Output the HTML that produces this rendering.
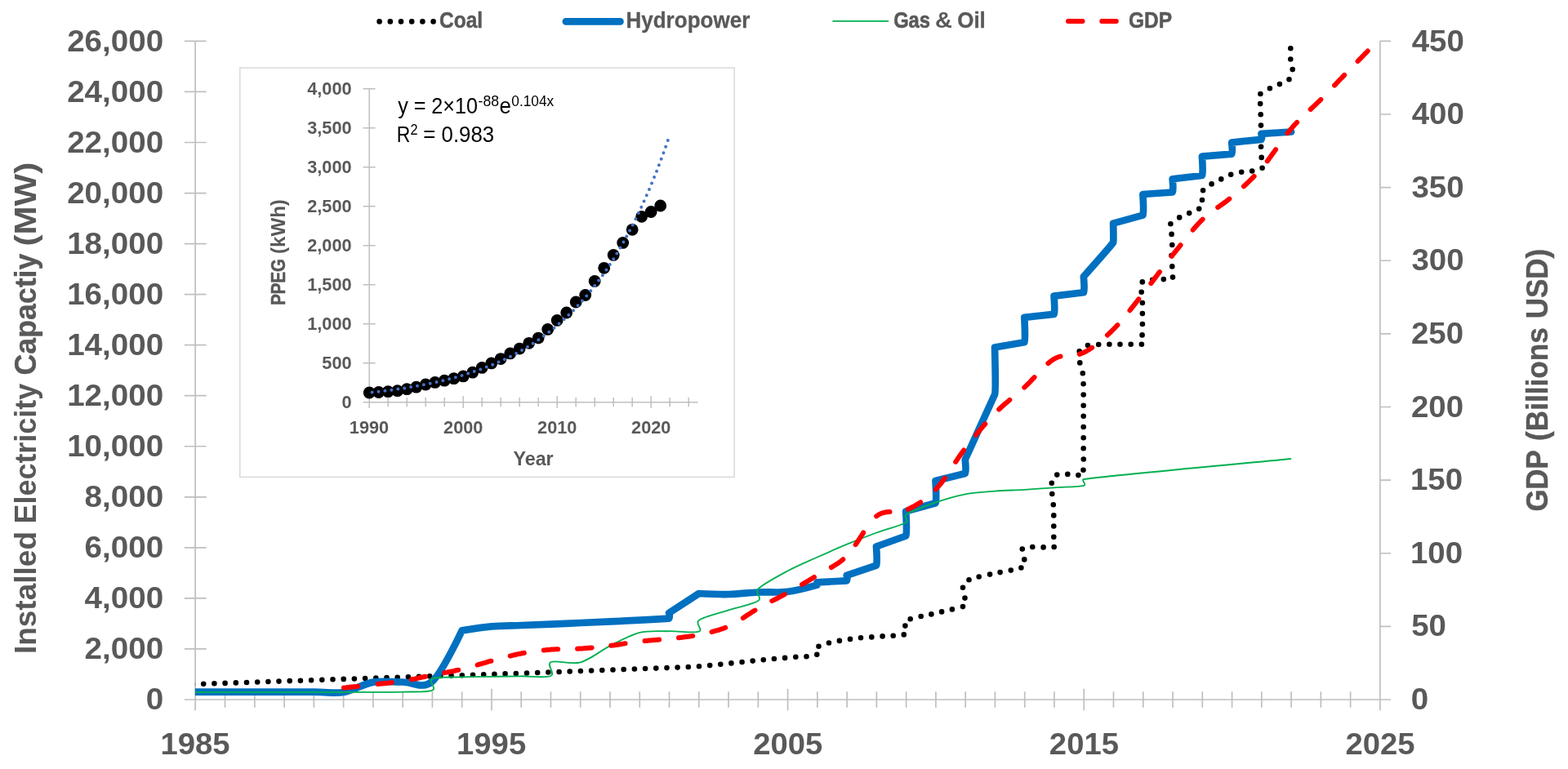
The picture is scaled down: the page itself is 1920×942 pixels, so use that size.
<!DOCTYPE html>
<html lang="en"><head><meta charset="utf-8"><title>Installed Electricity Capacity and GDP</title>
<style>html,body{margin:0;padding:0;background:#fff}body{width:1920px;height:942px;overflow:hidden}svg{display:block}text{font-family:'Liberation Sans',sans-serif;font-weight:bold;fill:#595959}.r{font-weight:normal;fill:#000}</style></head><body>
<svg width="1920" height="942" viewBox="0 0 1920 942">
<defs><clipPath id="plot"><rect x="238.9" y="40.4" width="1451.4" height="826.6"/></clipPath></defs>
<rect width="1920" height="942" fill="#fff"/>
<g stroke="#BFBFBF" stroke-width="1.7" fill="none">
<path d="M239.15,49.9V870.2"/>
<path d="M1689.9,49.9V870.2"/>
<path d="M225.9,857H1703.1"/>
<path d="M225.9,794.95H252.7M225.9,732.91H252.7M225.9,670.86H252.7M225.9,608.82H252.7M225.9,546.77H252.7M225.9,484.72H252.7M225.9,422.68H252.7M225.9,360.63H252.7M225.9,298.58H252.7M225.9,236.54H252.7M225.9,174.49H252.7M225.9,112.45H252.7M225.9,50.4H252.7M1689.9,767.38H1703.1M1689.9,677.76H1703.1M1689.9,588.13H1703.1M1689.9,498.51H1703.1M1689.9,408.89H1703.1M1689.9,319.27H1703.1M1689.9,229.64H1703.1M1689.9,140.02H1703.1M1689.9,50.4H1703.1M275.56,847.3V866.7M311.83,847.3V866.7M348.1,847.3V866.7M384.36,847.3V866.7M420.62,847.3V866.7M456.89,847.3V866.7M493.16,847.3V866.7M529.42,847.3V866.7M565.68,847.3V866.7M601.95,843.8V870.2M638.22,847.3V866.7M674.48,847.3V866.7M710.75,847.3V866.7M747.01,847.3V866.7M783.28,847.3V866.7M819.54,847.3V866.7M855.81,847.3V866.7M892.07,847.3V866.7M928.34,847.3V866.7M964.6,843.8V870.2M1000.87,847.3V866.7M1037.13,847.3V866.7M1073.39,847.3V866.7M1109.66,847.3V866.7M1145.92,847.3V866.7M1182.19,847.3V866.7M1218.45,847.3V866.7M1254.72,847.3V866.7M1290.98,847.3V866.7M1327.25,843.8V870.2M1363.51,847.3V866.7M1399.78,847.3V866.7M1436.05,847.3V866.7M1472.31,847.3V866.7M1508.58,847.3V866.7M1544.84,847.3V866.7M1581.11,847.3V866.7M1617.37,847.3V866.7M1653.63,847.3V866.7"/>
</g>
<text transform="matrix(1.0553 0 0 1 178.81 869.1)" font-size="36.6">0</text>
<text transform="matrix(1.0553 0 0 1 103.59 807.05)" font-size="36.6">2,000</text>
<text transform="matrix(1.0553 0 0 1 103.59 745.01)" font-size="36.6">4,000</text>
<text transform="matrix(1.0553 0 0 1 103.59 682.96)" font-size="36.6">6,000</text>
<text transform="matrix(1.0553 0 0 1 103.59 620.92)" font-size="36.6">8,000</text>
<text transform="matrix(1.0553 0 0 1 82.15 558.87)" font-size="36.6">10,000</text>
<text transform="matrix(1.0553 0 0 1 82.15 496.82)" font-size="36.6">12,000</text>
<text transform="matrix(1.0553 0 0 1 82.15 434.78)" font-size="36.6">14,000</text>
<text transform="matrix(1.0553 0 0 1 82.15 372.73)" font-size="36.6">16,000</text>
<text transform="matrix(1.0553 0 0 1 82.15 310.68)" font-size="36.6">18,000</text>
<text transform="matrix(1.0553 0 0 1 82.15 248.64)" font-size="36.6">20,000</text>
<text transform="matrix(1.0553 0 0 1 82.15 186.59)" font-size="36.6">22,000</text>
<text transform="matrix(1.0553 0 0 1 82.15 124.55)" font-size="36.6">24,000</text>
<text transform="matrix(1.0553 0 0 1 82.15 62.5)" font-size="36.6">26,000</text>
<text transform="matrix(1.0505 0 0 1 1727.76 869.1)" font-size="36.6">0</text>
<text transform="matrix(1.0505 0 0 1 1728.15 779.48)" font-size="36.6">50</text>
<text transform="matrix(1.0505 0 0 1 1726.9 689.86)" font-size="36.6">100</text>
<text transform="matrix(1.0505 0 0 1 1726.9 600.23)" font-size="36.6">150</text>
<text transform="matrix(1.0505 0 0 1 1727.95 510.61)" font-size="36.6">200</text>
<text transform="matrix(1.0505 0 0 1 1727.95 420.99)" font-size="36.6">250</text>
<text transform="matrix(1.0505 0 0 1 1728.43 331.37)" font-size="36.6">300</text>
<text transform="matrix(1.0505 0 0 1 1728.43 241.74)" font-size="36.6">350</text>
<text transform="matrix(1.0505 0 0 1 1728.72 152.12)" font-size="36.6">400</text>
<text transform="matrix(1.0505 0 0 1 1728.72 62.5)" font-size="36.6">450</text>
<text transform="matrix(1.0461 0 0 1 196.38 923.9)" font-size="36.6">1985</text>
<text transform="matrix(1.0461 0 0 1 559.03 923.9)" font-size="36.6">1995</text>
<text transform="matrix(1.0461 0 0 1 922.21 923.9)" font-size="36.6">2005</text>
<text transform="matrix(1.0461 0 0 1 1284.86 923.9)" font-size="36.6">2015</text>
<text transform="matrix(1.0461 0 0 1 1647.51 923.9)" font-size="36.6">2025</text>
<text transform="translate(44 798.6) rotate(-90) matrix(1.0005 0 0 1 -2.5 0)" font-size="37">Installed</text>
<text transform="translate(44 639) rotate(-90) matrix(0.9703 0 0 1 -2.42 0)" font-size="37">Electricity</text>
<text transform="translate(44 458.1) rotate(-90) matrix(0.9657 0 0 1 -1.43 0)" font-size="37" stroke="#595959" stroke-width="0.34" stroke-linejoin="round">Capactiy</text>
<text transform="translate(44 299.3) rotate(-90) matrix(1.1353 0 0 1 -2.1 0)" font-size="37">(MW)</text>
<text transform="translate(1894.7 625) rotate(-90) matrix(0.9364 0 0 1 -1.39 0)" font-size="37" stroke="#595959" stroke-width="0.5" stroke-linejoin="round">GDP</text>
<text transform="translate(1894.7 538.2) rotate(-90) matrix(0.952 0 0 1 -1.76 0)" font-size="37" stroke="#595959" stroke-width="0.42" stroke-linejoin="round">(Billions</text>
<text transform="translate(1894.7 388.2) rotate(-90) matrix(0.9457 0 0 1 -2.1 0)" font-size="37" stroke="#595959" stroke-width="0.45" stroke-linejoin="round">USD)</text>
<path d="M464.6,26.4H531.5" stroke="#000" stroke-width="6.6" stroke-linecap="round" stroke-dasharray="0 13.2" fill="none"/>
<text transform="matrix(0.909 0 0 1 537.92 34.3)" font-size="27" stroke="#595959" stroke-width="0.52" stroke-linejoin="round">Coal</text>
<path d="M692.9,26.4H759.5" stroke="#0070C0" stroke-width="8.7" stroke-linecap="round" fill="none"/>
<text transform="matrix(0.9645 0 0 1 766.44 34.3)" font-size="27" stroke="#595959" stroke-width="0.29" stroke-linejoin="round">Hydropower</text>
<path d="M1019.4,25.9H1088.1" stroke="#00B050" stroke-width="1.85" fill="none"/>
<text transform="matrix(0.8799 0 0 1 1094.15 34.3)" font-size="27" stroke="#595959" stroke-width="0.6" stroke-linejoin="round">Gas</text>
<text transform="matrix(1.0738 0 0 1 1145 34.3)" font-size="27">&amp;</text>
<text transform="matrix(0.9634 0 0 1 1172.16 34.3)" font-size="27" stroke="#595959" stroke-width="0.3" stroke-linejoin="round">Oil</text>
<path d="M1308,26H1368" stroke="#FF0000" stroke-width="6" stroke-linecap="round" stroke-dasharray="17.5 23.8" fill="none"/>
<text transform="matrix(0.9098 0 0 1 1382.02 34.3)" font-size="27" stroke="#595959" stroke-width="0.52" stroke-linejoin="round">GDP</text>
<g clip-path="url(#plot)" fill="none" stroke-linejoin="round">
<path d="M236,838.3h0M249.2,837.8h0M262.4,837.3h0M275.6,836.9h0M288.8,836.4h0M302,836h0M315.2,835.5h0M328.4,835h0M341.5,834.6h0M354.7,834.1h0M367.9,833.7h0M381.1,833.2h0M394.3,832.8h0M407.5,832.3h0M420.7,831.9h0M433.9,831.5h0M447.1,831h0M460.3,830.6h0M473.5,830.1h0M486.7,829.7h0M499.9,829.3h0M513,828.8h0M526.2,828.4h0M539.4,828h0M552.6,827.6h0M565.8,827.2h0M579,826.7h0M592.2,826.3h0M605.4,825.9h0M618.6,825.4h0M631.8,825h0M645,824.5h0M658.2,824h0M671.4,823.5h0M684.6,823h0M697.7,822.5h0M710.9,822h0M724.1,821.5h0M737.3,821h0M750.5,820.5h0M763.7,820h0M776.9,819.5h0M790.1,819h0M803.3,818.6h0M816.5,818.1h0M829.6,817.6h0M842.8,817h0M856,816.2h0M869.2,815.1h0M882.3,813.8h0M895.4,812.4h0M908.6,811h0M921.7,809.6h0M934.8,808.2h0M947.9,807h0M961.1,805.9h0M974.3,804.8h0M987.5,804.2h0M1000.3,801.7h0M1002.5,791.8h0M1015,787.5h0M1027.9,784.9h0M1041,782.9h0M1054,781.2h0M1067.3,780.4h0M1080.6,779.4h0M1093.7,778.7h0M1106.8,777.4h0M1108.4,766.6h0M1114.7,758.3h0M1127.7,755h0M1140.4,752.4h0M1153.1,749.4h0M1165.9,746.4h0M1179,743.1h0M1181.5,732.6h0M1179,719.8h0M1186.5,710.3h0M1198.7,706.5h0M1212.1,703.6h0M1224.6,701.1h0M1237.8,698.6h0M1250.4,695.5h0M1254.3,685.4h0M1251.8,672.5h0M1264.3,670h0M1277.6,670.4h0M1290.7,670h0M1290.3,657.7h0M1290.3,644.5h0M1290.3,631.4h0M1289.8,618.3h0M1288.3,605h0M1287.8,591.8h0M1294.3,581.6h0M1307.3,580.9h0M1320.4,582.1h0M1326.5,575.8h0M1326.8,562.5h0M1326.7,549.3h0M1326.7,536.2h0M1326.7,523h0M1326.7,509.8h0M1326.7,496.7h0M1326.7,483.5h0M1326.6,470.3h0M1325.8,457.3h0M1322.3,444.4h0M1321.7,430.4h0M1332,423.1h0M1345.2,422h0M1358.4,421.8h0M1371.5,421.8h0M1384.7,421.8h0M1397.9,421.7h0M1398.6,410.4h0M1398.9,397h0M1398.9,384.1h0M1398.9,371h0M1397.7,357.7h0M1398.8,345.4h0M1411.2,342.9h0M1424.8,342.1h0M1436,339.6h0M1435.3,326.4h0M1434.5,313.1h0M1435.3,300h0M1434.6,286.9h0M1433.4,274.2h0M1444.2,266.4h0M1456.2,261.1h0M1468.2,255.7h0M1472,245h0M1473.1,233.2h0M1483.6,225.4h0M1495.3,219.4h0M1507.2,213.7h0M1520.2,210.7h0M1533.2,209.5h0M1545.6,205.7h0M1544.7,192.9h0M1544.1,179.8h0M1544,166.7h0M1544,153.6h0M1543.7,140.3h0M1543.2,127.1h0M1543.4,115h0M1554.9,108.2h0M1566.9,103.1h0M1578.5,97.2h0M1582.7,85.1h0M1580.3,72.5h0M1580.3,59.2h0" stroke="#000" stroke-width="6.6" stroke-linecap="round"/>
<path d="M239.3,847.6C239.3,847.6 354.14,847.53 384.36,847.6C402.49,847.64 408.54,850 420.62,848C432.71,846 444.8,837.68 456.89,835.6C468.98,833.52 481.07,835.67 493.16,835.5C505.24,835.33 517.33,845.12 529.42,834.6C541.51,824.08 565.68,772.4 565.68,772.4C565.68,772.4 589.86,768.47 601.95,767.4C614.04,766.33 626.13,766.47 638.22,766C650.3,765.53 662.39,765.1 674.48,764.6C686.57,764.1 698.66,763.53 710.75,763C722.83,762.47 734.92,761.95 747.01,761.4C759.1,760.85 771.25,760.32 783.28,759.7C795.3,759.08 819.14,757.7 819.14,757.7C820.54,754.2 819.14,750.9 819.14,750.9L855.81,727C855.81,727 879.98,728.25 892.07,728C904.16,727.75 916.25,726.03 928.34,725.5C940.42,724.97 952.58,726.28 964.6,724.8C976.62,723.32 1000.47,716.6 1000.47,716.6C1001.87,713.1 1000.47,713.3 1000.47,713.3L1036.73,711.4C1038.13,707.9 1036.73,704.8 1036.73,704.8L1073,692.6C1074.4,689.1 1073,669.5 1073,669.5L1109.26,656.5C1110.66,653 1109.26,626.4 1109.26,626.4L1145.53,616.2C1146.93,612.7 1145.53,589 1145.53,589L1181.79,580C1183.19,576.5 1181.79,563 1181.79,563L1218.06,483.2C1219.46,479.7 1218.06,425.5 1218.06,425.5L1254.32,419.3C1255.72,415.8 1254.32,388.8 1254.32,388.8L1290.59,384.9C1291.99,381.4 1290.59,362.6 1290.59,362.6L1326.85,358.3C1328.25,354.8 1326.85,338.8 1326.85,338.8C1326.85,338.8 1360.12,301.5 1363.12,297C1363.72,292 1363.12,273.6 1363.12,273.6L1399.38,263.6C1400.78,260.1 1399.38,238 1399.38,238L1435.65,235.5C1437.05,232 1435.65,219.2 1435.65,219.2L1471.91,215C1473.31,211.5 1471.91,191.7 1471.91,191.7L1508.18,188.6C1509.58,185.1 1508.18,174.6 1508.18,174.6L1544.44,170.8C1545.84,167.3 1544.44,163.8 1544.44,163.8L1581.11,161.5" stroke="#0070C0" stroke-width="8.7" stroke-linecap="round"/>
<path d="M239.3,847.9C245.34,847.9 263.48,847.9 275.56,847.9C287.65,847.9 299.74,847.9 311.83,847.9C323.92,847.9 336.01,847.9 348.1,847.9C360.18,847.9 372.27,847.9 384.36,847.9C396.45,847.9 408.54,847.9 420.62,847.9C432.71,847.9 444.8,847.95 456.89,847.9C468.98,847.85 481.07,847.98 493.16,847.6C505.24,847.22 523.38,848.3 529.42,845.6C535.46,842.9 523.38,834.1 529.42,831.4C535.46,828.7 553.6,829.83 565.68,829.4C577.77,828.97 589.86,828.98 601.95,828.8C614.04,828.62 626.13,828.43 638.22,828.3C650.3,828.17 668.44,830.88 674.48,828C680.52,825.12 668.44,813.78 674.48,811C680.52,808.22 698.66,814.6 710.75,811.3C722.83,808 734.92,797.27 747.01,791.2C759.1,785.13 771.19,777.9 783.28,774.9C795.36,771.9 807.45,773.4 819.54,773.2C831.63,773 849.76,775.92 855.81,773.7C861.85,771.48 850.22,763.95 855.81,759.9C861.85,755.52 879.98,751.37 892.07,747.4C904.16,743.43 922.29,740.42 928.34,736.1C934.28,731.86 923.21,726.7 928.34,721.5C934.38,715.37 952.51,705.8 964.6,699.3C976.69,692.8 988.78,687.93 1000.87,682.5C1012.95,677.07 1025.04,671.7 1037.13,666.7C1049.22,661.7 1061.31,656.95 1073.39,652.5C1085.48,648.05 1103.62,643.68 1109.66,640C1113.76,637.5 1105.69,633.09 1109.66,630.4C1115.7,626.3 1133.84,619.58 1145.92,615.4C1158.01,611.22 1170.1,607.6 1182.19,605.3C1194.28,603 1206.37,602.52 1218.45,601.6C1230.54,600.68 1242.63,600.52 1254.72,599.8C1266.81,599.08 1278.9,598.13 1290.98,597.3C1303.07,596.47 1321.21,596.52 1327.25,594.8C1331,593.73 1323.38,587.5 1327.25,587C1369.56,581.53 1538.8,566.17 1581.11,562" stroke="#00B050" stroke-width="1.85"/>
<path d="M421,842.6L422.8,842.4L424.8,842.1L426.3,842L428,841.8L429.7,841.6L431.6,841.4L433.5,841.2L435.5,841L437.5,840.8L438.3,840.7M462.5,838L464.1,837.8L466,837.6L467.8,837.4L469.6,837.2L471.4,837.1L473.2,836.9L475,836.7L476.8,836.5L478.7,836.3L479.9,836.1M503.9,832.3L505.8,831.9L507.7,831.6L509.5,831.2L511.3,830.8L513.1,830.4L514.9,830L516.7,829.6L518.5,829.2L520.4,828.8L521,828.7M544.2,824.1L545.7,823.8L547.6,823.5L549.4,823.1L551.2,822.8L553,822.4L554.8,822.1L556.6,821.7L558.4,821.3L560.2,820.9L561.3,820.7M584.6,814.5L586.5,813.9L588.3,813.4L590.2,812.8L592,812.3L593.8,811.8L595.6,811.3L597.4,810.7L599.2,810.2L601,809.7L601.4,809.7M624.7,803.5L626.4,803.1L628.2,802.6L630.1,802.2L631.9,801.8L633.7,801.4L635.5,801L637.3,800.7L639.1,800.3L640.9,800L641.8,799.8M665.8,796.5L668.1,796.3L669.9,796.1L671.8,795.9L673.6,795.8L675.4,795.6L677.2,795.5L679,795.4L680.8,795.3L682.6,795.2L683.2,795.2M707.1,794.7L708.9,794.6L710.8,794.5L712.6,794.4L714.4,794.3L716.2,794.1L718,794L719.8,793.8L721.6,793.7L723.4,793.5L724.6,793.4M748.3,790.8L750.6,790.5L752.5,790.3L754.3,790L756.1,789.8L757.9,789.5L759.7,789.2L761.5,788.9L763.3,788.6L765.1,788.3L765.6,788.3M789.6,785L791.4,784.9L793.2,784.7L795.1,784.5L796.9,784.4L798.7,784.2L800.5,784.1L802.3,783.9L804.1,783.8L805.9,783.7L807.1,783.6M831,781.2L833.1,781L835,780.8L836.8,780.5L838.6,780.3L840.4,780.1L842.2,779.9L844,779.6L845.8,779.4L847.6,779.1L848.3,779M871.5,774.1L873,773.7L874.8,773.2L876.7,772.7L878.5,772.2L880.3,771.6L882.1,771L883.9,770.4L885.7,769.8L887.5,769.1L888.2,768.8M909.8,757.1L911.1,756.2L912.9,755L914.7,753.8L916.6,752.6L918.4,751.5L920.2,750.3L922,749.1L923.8,748L924.5,747.6M945.3,736.2L947.4,735.1L949.2,734.2L951,733.3L952.8,732.3L954.6,731.4L956.4,730.4L958.3,729.5L960.1,728.5L960.8,728.1M982,716L983.6,715L985.5,714L987.3,712.9L989.1,711.8L990.9,710.7L992.7,709.6L994.5,708.5L996.3,707.4L997,707M1017.9,695L1019.9,693.9L1021.7,692.8L1023.5,691.6L1025.3,690.5L1027.2,689.2L1029,687.9L1030.8,686.5L1032.3,685.2M1047.7,667.2L1048.9,665.4L1049.8,664L1050.7,662.6L1051.6,661.2L1052.5,659.7L1053.5,658.3L1054.4,656.9L1055.3,655.5L1056.2,654.1L1057.1,652.6L1057.2,652.4M1073.2,632.4L1075.2,630.9L1077,629.9L1078.8,629L1080.6,628.4L1082.5,627.9L1084.3,627.5L1086.1,627.3L1087.9,627.1L1089.5,627.1M1111.9,623.8L1113.3,623.1L1115.1,622.2L1116.9,621.3L1118.7,620.3L1120.5,619.3L1122.4,618.2L1124.2,617.1L1126,616L1127.2,615.2M1145.8,599.5L1147.7,597.4L1149.5,595.3L1151.4,593.1L1153.2,590.8L1154.1,589.6L1155,588.3L1155.9,587.1L1156.8,585.8M1170.2,565.8L1171.3,564.2L1172.2,562.8L1173.1,561.5L1174,560.1L1174.9,558.8L1175.8,557.5L1176.7,556.2L1177.7,554.9L1178.6,553.6L1179.5,552.4L1180.2,551.4M1195,532.8L1196.7,530.7L1198.5,528.5L1200.3,526.3L1202.1,524.2L1203.9,522.1L1205.8,520L1206.3,519.4M1223.2,501.5L1224.8,500L1226.6,498.3L1228.4,496.7L1230.2,495.1L1232.1,493.5L1233.9,492L1235.7,490.5L1236.3,489.9M1254.3,474.6L1255.6,473.4L1257.4,471.6L1259.3,469.8L1261.1,468L1262.9,466.1L1264.7,464.1L1266.5,462.2L1266.6,462.1M1283.4,445.1L1284.6,444.1L1286.4,442.7L1288.3,441.3L1290.1,440.1L1291.9,439.1L1293.7,438.2L1295.5,437.5L1297.3,436.9L1298.5,436.6M1321.8,433.8L1323.6,433.2L1325.4,432.5L1327.2,431.7L1329.1,430.8L1330.9,429.8L1332.7,428.7L1334.5,427.6L1336.3,426.4L1337.2,425.8M1356,410.5L1357.2,409.4L1359,407.7L1360.8,406L1362.6,404.2L1364.4,402.4L1366.2,400.5L1368,398.6L1368.4,398.2M1383.5,380.2L1385.3,378L1387.1,375.7L1388.9,373.4L1390.7,371.1L1392.5,368.7L1394.3,366.4M1409.4,347.1L1410.7,345.4L1411.6,344.2L1412.5,343L1413.4,341.8L1414.3,340.6L1415.2,339.4L1416.1,338.2L1417,337L1417.9,335.8L1418.8,334.6L1419.7,333.4L1420,333.1M1434.7,313.9L1436,312.2L1437.9,309.9L1439.7,307.6L1441.5,305.4L1443.3,303.1L1445.1,300.8L1445.6,300.2M1460.7,281.6L1462.3,279.7L1464.1,277.6L1466,275.6L1467.8,273.6L1469.6,271.7L1471.4,269.9L1472.6,268.7M1491.2,254L1493.2,252.6L1495,251.3L1496.8,250.1L1498.6,248.8L1500.4,247.5L1502.2,246.1L1504,244.7L1505.3,243.7M1523,228.2L1524.9,226.5L1526.7,224.8L1528.5,223.1L1530.3,221.3L1532.1,219.5L1534,217.7L1535.6,216M1551.8,197.3L1553,195.8L1553.9,194.5L1554.8,193.3L1555.7,192.1L1556.6,190.8L1557.5,189.5L1558.4,188.3L1559.3,187L1560.3,185.7L1561.2,184.4L1562.1,183.2M1576.6,163.1L1578.4,160.9L1580.2,158.7L1582,156.6L1583.8,154.5L1585.6,152.5L1587.5,150.6L1588.1,149.9M1604.7,134L1606.5,132.3L1608.3,130.6L1610.1,128.9L1611.9,127.1L1613.7,125.4L1615.6,123.6L1617.3,121.9M1634.1,104.6L1635.5,103.1L1637.3,101.2L1639.1,99.3L1640.9,97.4L1642.8,95.5L1644.6,93.6L1646.2,91.9M1662.6,75L1664.6,72.9L1665.7,71.8L1666.7,70.8L1667.8,69.7L1668.8,68.6L1669.9,67.5L1670.9,66.4L1673,64.3L1674.8,62.5" stroke="#FF0000" stroke-width="6" stroke-linecap="round"/>
</g>
<rect x="293.8" y="83.1" width="605.4" height="501.3" fill="#fff" stroke="#D9D9D9" stroke-width="1.5"/>
<g stroke="#BFBFBF" stroke-width="1.5" fill="none">
<path d="M452.2,108V500.1"/>
<path d="M444.6,492.7H854.7"/>
<path d="M444.6,444.7H459.6M444.6,396.7H459.6M444.6,348.7H459.6M444.6,300.7H459.6M444.6,252.7H459.6M444.6,204.7H459.6M444.6,156.7H459.6M444.6,108.7H459.6M475.2,487.1V498.3M498.2,487.1V498.3M521.2,487.1V498.3M544.2,487.1V498.3M567.2,485.3V500.1M590.2,487.1V498.3M613.2,487.1V498.3M636.2,487.1V498.3M659.2,487.1V498.3M682.2,485.3V500.1M705.2,487.1V498.3M728.2,487.1V498.3M751.2,487.1V498.3M774.2,487.1V498.3M797.2,485.3V500.1M820.2,487.1V498.3M843.2,487.1V498.3"/>
</g>
<text transform="matrix(0.999 0 0 1 418.58 499.6)" font-size="21.8">0</text>
<text transform="matrix(0.999 0 0 1 394.36 451.6)" font-size="21.8">500</text>
<text transform="matrix(0.999 0 0 1 376.17 403.6)" font-size="21.8">1,000</text>
<text transform="matrix(0.999 0 0 1 376.17 355.6)" font-size="21.8">1,500</text>
<text transform="matrix(0.999 0 0 1 376.17 307.6)" font-size="21.8">2,000</text>
<text transform="matrix(0.999 0 0 1 376.17 259.6)" font-size="21.8">2,500</text>
<text transform="matrix(0.999 0 0 1 376.17 211.6)" font-size="21.8">3,000</text>
<text transform="matrix(0.999 0 0 1 376.17 163.6)" font-size="21.8">3,500</text>
<text transform="matrix(0.999 0 0 1 376.17 115.6)" font-size="21.8">4,000</text>
<text transform="matrix(0.9975 0 0 1 427.79 530.7)" font-size="21.8">1990</text>
<text transform="matrix(0.9975 0 0 1 543.09 530.7)" font-size="21.8">2000</text>
<text transform="matrix(0.9975 0 0 1 658.09 530.7)" font-size="21.8">2010</text>
<text transform="matrix(0.9975 0 0 1 773.09 530.7)" font-size="21.8">2020</text>
<text transform="matrix(0.9995 0 0 1 628.49 570.3)" font-size="23.3">Year</text>
<text transform="translate(349.3 372.4) rotate(-90) matrix(0.877 0 0 1 -1.38 0)" font-size="23.3" stroke="#595959" stroke-width="0.58" stroke-linejoin="round">PPEG</text>
<text transform="translate(349.3 309.8) rotate(-90) matrix(1.0339 0 0 1 -1.2 0)" font-size="23.3">(kWh)</text>
<text class="r" transform="matrix(0.921 0 0 1 487.14 139.3)" font-size="27.3">y = 2×10</text>
<text class="r" transform="matrix(0.9505 0 0 1 585.5 130.2)" font-size="18.6">-88</text>
<text class="r" transform="matrix(0.9508 0 0 1 611.5 139.3)" font-size="27.3">e</text>
<text class="r" transform="matrix(0.9295 0 0 1 626.31 130.2)" font-size="18.6">0.104x</text>
<text class="r" transform="matrix(0.8408 0 0 1 485.71 174.3)" font-size="27.3">R</text>
<text class="r" transform="matrix(0.8744 0 0 1 502.59 165.2)" font-size="18.6">2</text>
<text class="r" transform="matrix(0.9454 0 0 1 518.31 174.3)" font-size="27.3">= 0.983</text>
<g fill="#000"><circle cx="452.2" cy="481" r="7.4"/><circle cx="463.7" cy="480.5" r="7.4"/><circle cx="475.2" cy="479.7" r="7.4"/><circle cx="486.7" cy="478.7" r="7.4"/><circle cx="498.2" cy="476.7" r="7.4"/><circle cx="509.7" cy="474.2" r="7.4"/><circle cx="521.2" cy="471" r="7.4"/><circle cx="532.7" cy="468.4" r="7.4"/><circle cx="544.2" cy="466.2" r="7.4"/><circle cx="555.7" cy="463.7" r="7.4"/><circle cx="567.2" cy="460.9" r="7.4"/><circle cx="578.7" cy="456.2" r="7.4"/><circle cx="590.2" cy="450.4" r="7.4"/><circle cx="601.7" cy="444.9" r="7.4"/><circle cx="613.2" cy="439.6" r="7.4"/><circle cx="624.7" cy="432.9" r="7.4"/><circle cx="636.2" cy="427.1" r="7.4"/><circle cx="647.7" cy="420.3" r="7.4"/><circle cx="659.2" cy="414.1" r="7.4"/><circle cx="670.7" cy="403.4" r="7.4"/><circle cx="682.2" cy="392.4" r="7.4"/><circle cx="693.7" cy="383" r="7.4"/><circle cx="705.2" cy="370" r="7.4"/><circle cx="716.7" cy="361.5" r="7.4"/><circle cx="728.2" cy="344.5" r="7.4"/><circle cx="739.7" cy="328.3" r="7.4"/><circle cx="751.2" cy="312.4" r="7.4"/><circle cx="762.7" cy="297.4" r="7.4"/><circle cx="774.2" cy="281.3" r="7.4"/><circle cx="785.7" cy="265.3" r="7.4"/><circle cx="797.2" cy="259.5" r="7.4"/><circle cx="808.7" cy="252" r="7.4"/></g>
<path d="M452.2,480.9L454.5,480.7L456.8,480.5L459.1,480.2L461.4,479.9L463.7,479.7L466,479.4L468.3,479.1L470.6,478.8L472.9,478.5L475.2,478.2L477.5,477.9L479.8,477.6L482.1,477.3L484.4,477L486.7,476.6L489,476.3L491.3,476L493.6,475.6L495.9,475.3L498.2,474.9L500.5,474.5L502.8,474.1L505.1,473.7L507.4,473.3L509.7,472.9L512,472.5L514.3,472.1L516.6,471.7L518.9,471.2L521.2,470.8L523.5,470.3L525.8,469.8L528.1,469.4L530.4,468.9L532.7,468.4L535,467.9L537.3,467.3L539.6,466.8L541.9,466.3L544.2,465.7L546.5,465.1L548.8,464.6L551.1,464L553.4,463.4L555.7,462.7L558,462.1L560.3,461.5L562.6,460.8L564.9,460.1L567.2,459.5L569.5,458.8L571.8,458L574.1,457.3L576.4,456.6L578.7,455.8L581,455L583.3,454.2L585.6,453.4L587.9,452.6L590.2,451.8L592.5,450.9L594.8,450L597.1,449.1L599.4,448.2L601.7,447.3L604,446.3L606.3,445.4L608.6,444.4L610.9,443.3L613.2,442.3L615.5,441.2L617.8,440.2L620.1,439.1L622.4,437.9L624.7,436.8L627,435.6L629.3,434.4L631.6,433.2L633.9,431.9L636.2,430.7L638.5,429.3L640.8,428L643.1,426.7L645.4,425.3L647.7,423.9L650,422.4L652.3,420.9L654.6,419.4L656.9,417.9L659.2,416.3L661.5,414.7L663.8,413.1L666.1,411.4L668.4,409.7L670.7,407.9L673,406.2L675.3,404.3L677.6,402.5L679.9,400.6L682.2,398.6L684.5,396.7L686.8,394.6L689.1,392.6L691.4,390.5L693.7,388.3L696,386.1L698.3,383.9L700.6,381.6L702.9,379.3L705.2,376.9L707.5,374.5L709.8,372L712.1,369.4L714.4,366.9L716.7,364.2L719,361.5L721.3,358.7L723.6,355.9L725.9,353.1L728.2,350.1L730.5,347.1L732.8,344.1L735.1,340.9L737.4,337.8L739.7,334.5L742,331.2L744.3,327.8L746.6,324.3L748.9,320.8L751.2,317.2L753.5,313.5L755.8,309.7L758.1,305.9L760.4,301.9L762.7,297.9L765,293.8L767.3,289.6L769.6,285.4L771.9,281L774.2,276.6L776.5,272L778.8,267.4L781.1,262.7L783.4,257.8L785.7,252.9L788,247.8L790.3,242.7L792.6,237.4L794.9,232.1L797.2,226.6L799.5,221L801.8,215.3L804.1,209.5L806.4,203.5L808.7,197.4L811,191.2L813.3,184.9L815.6,178.4L817.9,171.8L820.2,165.1" stroke="#4472C4" stroke-width="4" fill="none" stroke-linecap="round" stroke-dasharray="0 8" stroke-dashoffset="4.6"/>
</svg></body></html>
